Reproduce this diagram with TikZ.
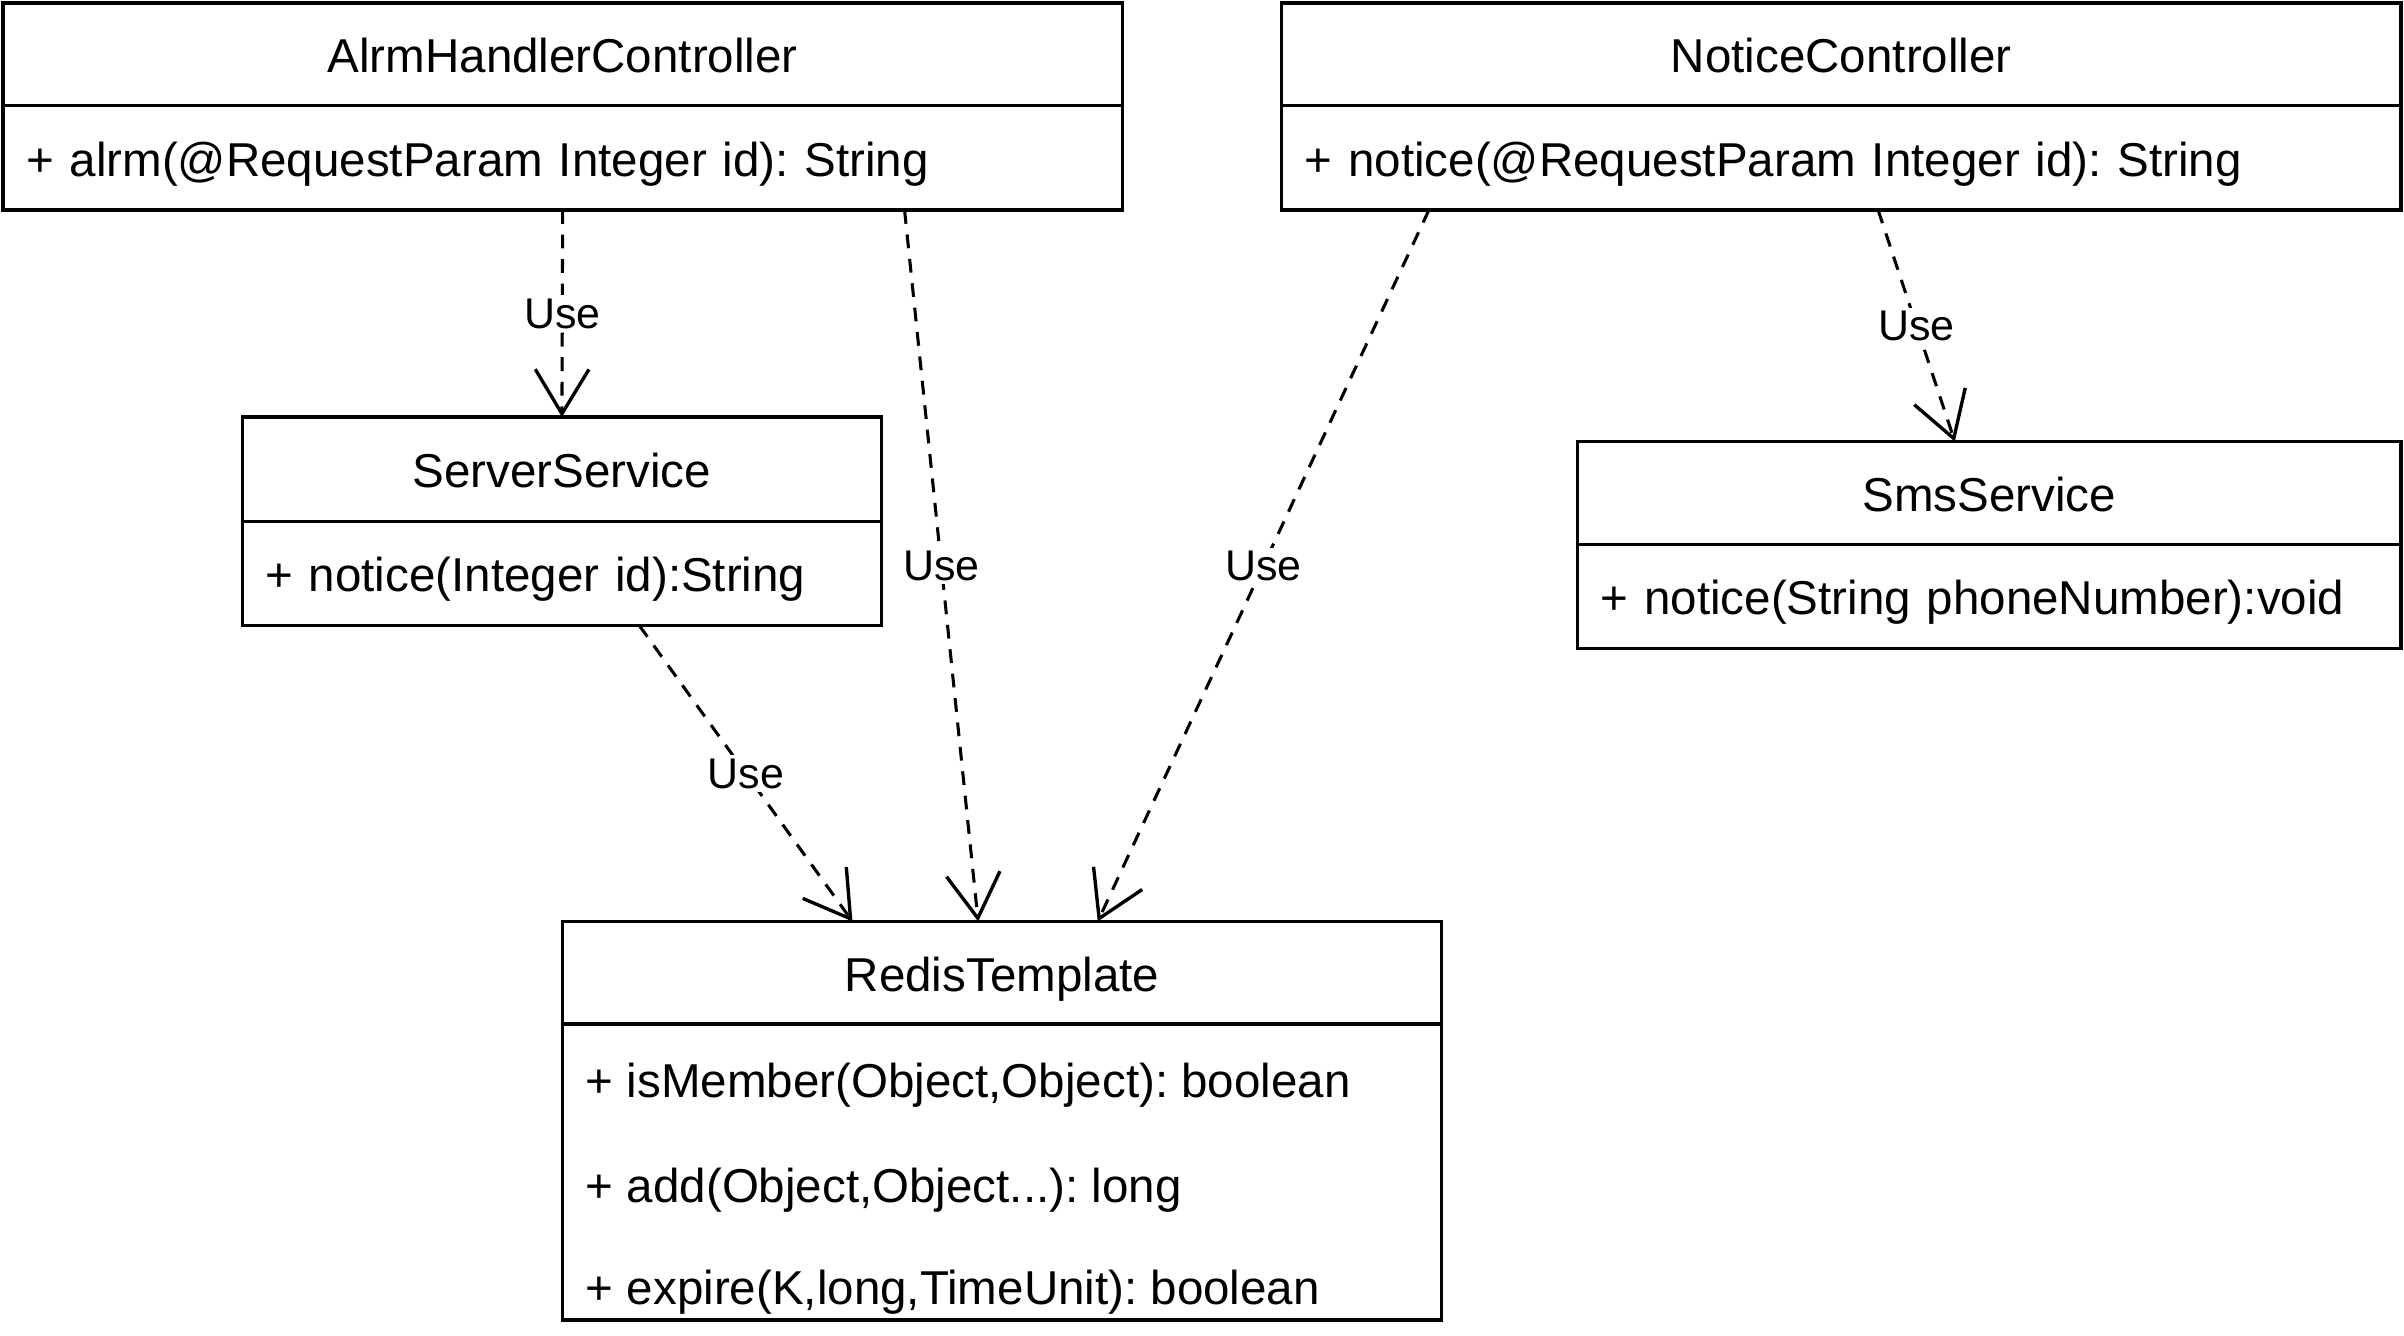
\documentclass[tikz,border=0pt]{standalone}
\usepackage{fontspec}
\setmainfont{Liberation Sans}
\frenchspacing
\usetikzlibrary{positioning,calc,arrows.meta}
\tikzset{
  classhead/.style={draw, line width=2.2pt, outer sep=0pt, inner sep=0pt,
    minimum height=67pt, text height=24pt, text depth=0pt,
    font=\fontsize{31}{37}\selectfont},
  classbody/.style={draw, line width=2.2pt, outer sep=0pt, inner ysep=0pt,
    inner xsep=15pt, minimum height=68pt, align=left,
    text height=24pt, text depth=0pt, font=\fontsize{31}{37}\selectfont},
  classitem/.style={anchor=west, inner sep=0pt, text height=24pt, text depth=0pt,
    font=\fontsize{31}{37}\selectfont},
  uses/.style={line width=2pt, dash pattern=on 9pt off 7pt,
    -{Straight Barb[length=29pt,width=35pt,line width=2.2pt]}},
  uselabel/.style={fill=white, inner sep=2pt, font=\fontsize{28}{34}\selectfont}
}
\begin{document}
\begin{tikzpicture}[x=1pt,y=-1pt]
  \useasboundingbox (0,0) rectangle (1568,871);
  % classes
  \node[classhead, minimum width=730pt] (alrmhead) at (367,35.5) {AlrmHandlerController};
  \node[classbody, text width=700pt, below=0pt of alrmhead] (alrmbody) {+ alrm(@RequestParam Integer id): String};
  \node[classhead, minimum width=730pt] (noticehead) at (1201,35.5) {NoticeController};
  \node[classbody, text width=700pt, below=0pt of noticehead] (noticebody) {+ notice(@RequestParam Integer id): String};
  \node[classhead, minimum width=417pt, minimum height=68pt] (serverhead) at (366.5,306) {ServerService};
  \node[classbody, text width=387pt, below=0pt of serverhead] (serverbody) {+ notice(Integer id):String};
  \node[classhead, minimum width=537pt] (smshead) at (1297.5,321.5) {SmsService};
  \node[classbody, text width=507pt, below=0pt of smshead] (smsbody) {+ notice(String phoneNumber):void};
  \node[classhead, minimum width=573pt] (redishead) at (653.5,634.5) {RedisTemplate};
  \node[classbody, text width=543pt, minimum height=193pt, below=0pt of redishead] (redisbody) {};
  \foreach \dy/\txt in {36/{+ isMember(Object,Object): boolean},
      104/{+ add(Object,Object...): long},
      171/{+ expire(K,long,TimeUnit): boolean}}
    \node[classitem] at ($(redisbody.north west)+(15,\dy)$) {\txt};
  % dependencies
  \draw[uses] (alrmbody.south) -- (serverhead.north) node[uselabel, midway] {Use};
  \draw[uses] ([xshift=223pt]alrmbody.south) -- ([xshift=-15.5pt]redishead.north) node[uselabel, midway] {Use};
  \draw[uses] ([xshift=-269pt]noticebody.south) -- ([xshift=62.5pt]redishead.north) node[uselabel, midway] {Use};
  \draw[uses] ([xshift=24pt]noticebody.south) -- ([xshift=-22.5pt]smshead.north) node[uselabel, midway] {Use};
  \draw[uses] ([xshift=50.5pt]serverbody.south) -- ([xshift=-97.5pt]redishead.north) node[uselabel, midway] {Use};
\end{tikzpicture}
\end{document}
